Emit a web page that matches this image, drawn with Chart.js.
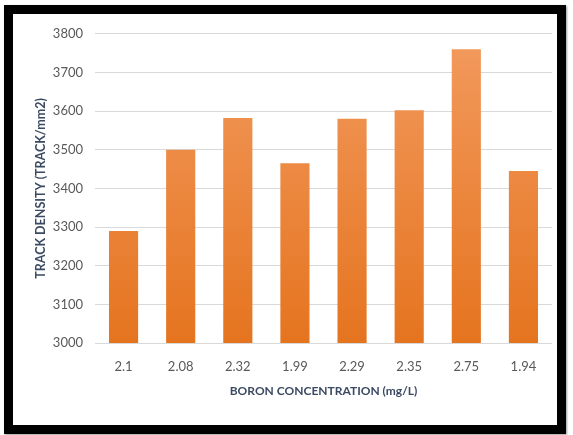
<!DOCTYPE html>
<html>
<head>
<meta charset="utf-8">
<script src="https://cdn.jsdelivr.net/npm/chart.js@4"></script>
<style>
  html, body { margin: 0; padding: 0; background: #ffffff; }
  #frame {
    position: absolute;
    left: 4px;
    top: 5px;
    width: 544px;
    height: 411px;
    border: 9px solid #000000;
    background: #ffffff;
    box-shadow: 1px 1px 2px rgba(0,0,0,0.4);
  }
  #chart1 { display: block; }
</style>
</head>
<body>
<div id="frame">
  <canvas id="chart1" width="544" height="411"></canvas>
</div>
<script>
const boronLabels = ["2.1", "2.08", "2.32", "1.99", "2.29", "2.35", "2.75", "1.94"];
const trackDensity = [3290, 3500, 3582, 3465, 3580, 3602, 3760, 3445];
const yTicks = [3000, 3100, 3200, 3300, 3400, 3500, 3600, 3700, 3800];

// orange bars, a bit lighter at the top
function barGradient(context) {
  const chart = context.chart;
  const area = chart.chartArea;
  if (!area) return "#ea7f33";
  const g = chart.ctx.createLinearGradient(0, area.top, 0, area.bottom);
  g.addColorStop(0, "#f29a5e");
  g.addColorStop(1, "#e5741f");
  return g;
}

function drawChart1(xValues, yValues) {
  new Chart("chart1", {
    type: "bar",
    data: {
      labels: xValues,
      datasets: [
        {
          label: "Track density",
          data: yValues,
          backgroundColor: barGradient,
          borderWidth: 0,
          categoryPercentage: 1.0,
          barPercentage: 0.51,
        },
      ],
    },
    options: {
      responsive: false,
      animation: false,
      layout: {
        padding: { left: 20, right: 5, top: 14, bottom: 27 },
      },
      plugins: {
        legend: { display: false },
        tooltip: { enabled: false },
      },
      scales: {
        x: {
          grid: { display: false, drawTicks: false },
          border: { display: false },
          ticks: {
            color: "#595959",
            font: { family: "Lato", size: 13 },
            padding: 16,
          },
          title: {
            display: true,
            text: "BORON CONCENTRATION (mg/L)",
            color: "#3b4a62",
            font: { family: "Lato", size: 12, weight: "bold" },
            padding: { top: -7, bottom: 0 },
          },
        },
        y: {
          min: 3000,
          max: 3800,
          afterBuildTicks: (scale) => {
            scale.ticks = yTicks.map((v) => ({ value: v }));
          },
          afterFit: (scale) => {
            scale.width = 62;
          },
          grid: { color: "#d9d9d9", lineWidth: 1, drawTicks: false },
          border: { display: false },
          ticks: {
            color: "#595959",
            font: { family: "Lato", size: 13 },
            padding: 12,
            callback: (v) => String(v),
          },
          title: {
            display: true,
            text: "TRACK DENSITY (TRACK/mm2)",
            color: "#3b4a62",
            font: { family: "Lato", size: 12.5, weight: "bold" },
            padding: { top: 0, bottom: 6 },
          },
        },
      },
    },
  });
}

drawChart1(boronLabels, trackDensity);
</script>
</body>
</html>
